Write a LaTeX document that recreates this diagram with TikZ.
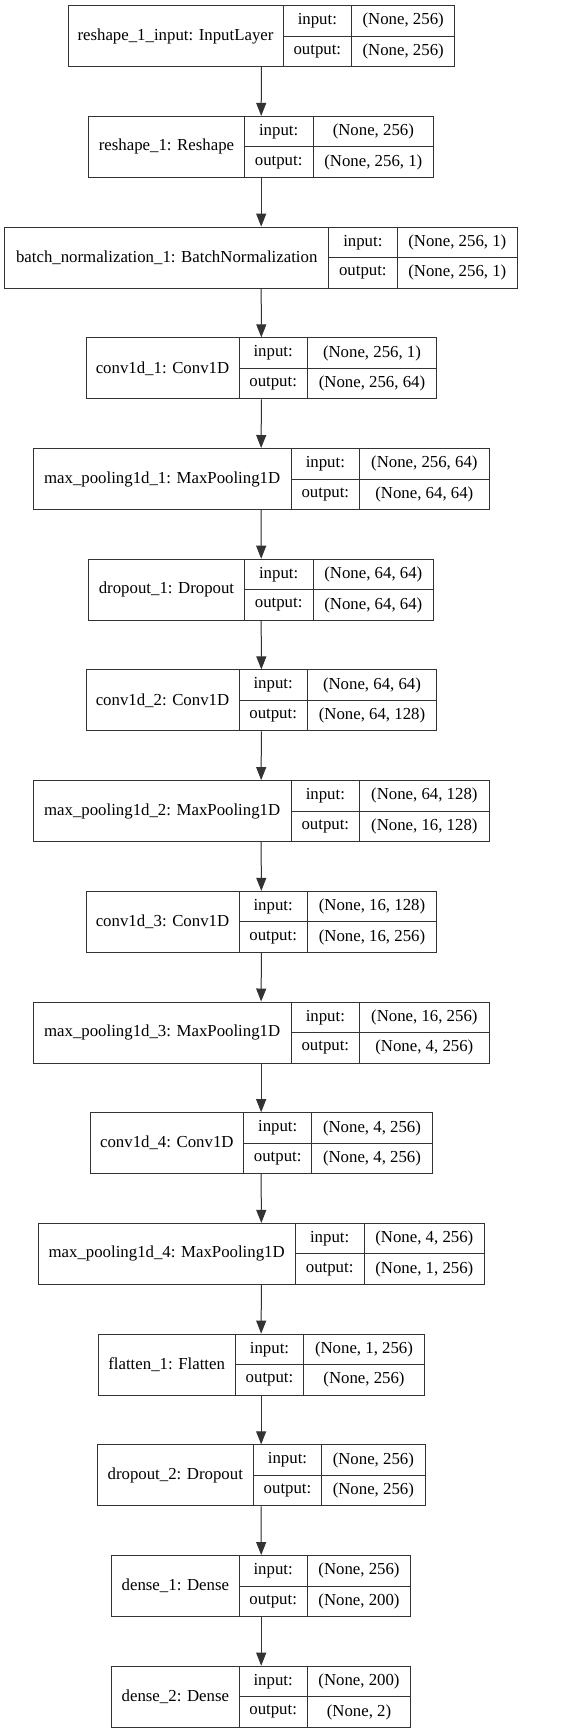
\documentclass[tikz,border=0pt]{standalone}
\usepackage{fontspec}
\setmainfont{Liberation Serif}
\usepackage{tikz}
\usetikzlibrary{arrows.meta}
\definecolor{edge}{HTML}{333333}

% one layer record: name, top, x0, x1, x2, x3, label, input shape, output shape
\newcommand{\layerbox}[9]{%
  \node[record, minimum width={(#6-#3)*1pt}] (#1) at ({(#3+#6)/2}, {#2+30.5}) {};
  \draw[cellline] (#4, #2) -- (#4, {#2+61}) (#5, #2) -- (#5, {#2+61}) (#4, {#2+30.5}) -- (#6, {#2+30.5});
  \node[txt] (#1-name) at ({(#3+#4)/2}, {#2+30.5}) {#7};
  \node[txt] (#1-in) at ({(#4+#5)/2}, {#2+15.25}) {input:};
  \node[txt] (#1-out) at ({(#4+#5)/2}, {#2+45.75}) {output:};
  \node[txt] (#1-inval) at ({(#5+#6)/2}, {#2+15.25}) {#8};
  \node[txt] (#1-outval) at ({(#5+#6)/2}, {#2+45.75}) {#9};
}

\begin{document}
\begin{tikzpicture}[
  x=1pt, y=-1pt,
  record/.style={rectangle, draw=edge, line width=1pt, minimum height=61pt, inner sep=0pt},
  cellline/.style={draw=edge, line width=1pt},
  txt/.style={inner sep=0pt, font=\fontsize{16.8}{20}\selectfont},
  arrow/.style={-{Triangle[length=13pt, width=10pt]}, draw=edge, fill=edge, line width=1pt}
]
  \useasboundingbox (0,0) rectangle (560,1733);
  \fill[white] (0,0) rectangle (560,1733);

  \layerbox{inp}{5.7}{68}{283}{351.7}{454.7}{reshape\_1\_input: InputLayer}{(None, 256)}{(None, 256)}
  \layerbox{resh}{116.4}{88.7}{244.3}{313}{433.7}{reshape\_1: Reshape}{(None, 256)}{(None, 256, 1)}
  \layerbox{bn}{227.1}{4.7}{328.7}{397}{517.7}{batch\_normalization\_1: BatchNormalization}{(None, 256, 1)}{(None, 256, 1)}
  \layerbox{convA}{337.8}{86}{239}{307.3}{436.7}{conv1d\_1: Conv1D}{(None, 256, 1)}{(None, 256, 64)}
  \layerbox{poolA}{448.5}{33.3}{291}{359.7}{489}{max\_pooling1d\_1: MaxPooling1D}{(None, 256, 64)}{(None, 64, 64)}
  \layerbox{dropA}{559.2}{88.7}{244.3}{313}{433.7}{dropout\_1: Dropout}{(None, 64, 64)}{(None, 64, 64)}
  \layerbox{convB}{669.9}{86}{239}{307.3}{436.7}{conv1d\_2: Conv1D}{(None, 64, 64)}{(None, 64, 128)}
  \layerbox{poolB}{780.6}{33.3}{291}{359.7}{489}{max\_pooling1d\_2: MaxPooling1D}{(None, 64, 128)}{(None, 16, 128)}
  \layerbox{convC}{891.3}{86}{239}{307.3}{436.7}{conv1d\_3: Conv1D}{(None, 16, 128)}{(None, 16, 256)}
  \layerbox{poolC}{1002}{33.3}{291}{359.7}{489}{max\_pooling1d\_3: MaxPooling1D}{(None, 16, 256)}{(None, 4, 256)}
  \layerbox{convD}{1112.7}{90}{243.7}{311.7}{432.3}{conv1d\_4: Conv1D}{(None, 4, 256)}{(None, 4, 256)}
  \layerbox{poolD}{1223.4}{38}{295.3}{364}{484.7}{max\_pooling1d\_4: MaxPooling1D}{(None, 4, 256)}{(None, 1, 256)}
  \layerbox{flat}{1334.1}{98}{235.3}{303.7}{424.3}{flatten\_1: Flatten}{(None, 1, 256)}{(None, 256)}
  \layerbox{dropB}{1444.8}{97.3}{253.3}{321.7}{425}{dropout\_2: Dropout}{(None, 256)}{(None, 256)}
  \layerbox{denseA}{1555.5}{111.7}{239}{307.3}{410.7}{dense\_1: Dense}{(None, 256)}{(None, 200)}
  \layerbox{denseB}{1666.2}{111.7}{239}{307.3}{410.7}{dense\_2: Dense}{(None, 200)}{(None, 2)}

  \draw[arrow] (inp.south) -- (resh.north);
  \draw[arrow] (resh.south) -- (bn.north);
  \draw[arrow] (bn.south) -- (convA.north);
  \draw[arrow] (convA.south) -- (poolA.north);
  \draw[arrow] (poolA.south) -- (dropA.north);
  \draw[arrow] (dropA.south) -- (convB.north);
  \draw[arrow] (convB.south) -- (poolB.north);
  \draw[arrow] (poolB.south) -- (convC.north);
  \draw[arrow] (convC.south) -- (poolC.north);
  \draw[arrow] (poolC.south) -- (convD.north);
  \draw[arrow] (convD.south) -- (poolD.north);
  \draw[arrow] (poolD.south) -- (flat.north);
  \draw[arrow] (flat.south) -- (dropB.north);
  \draw[arrow] (dropB.south) -- (denseA.north);
  \draw[arrow] (denseA.south) -- (denseB.north);
\end{tikzpicture}
\end{document}
